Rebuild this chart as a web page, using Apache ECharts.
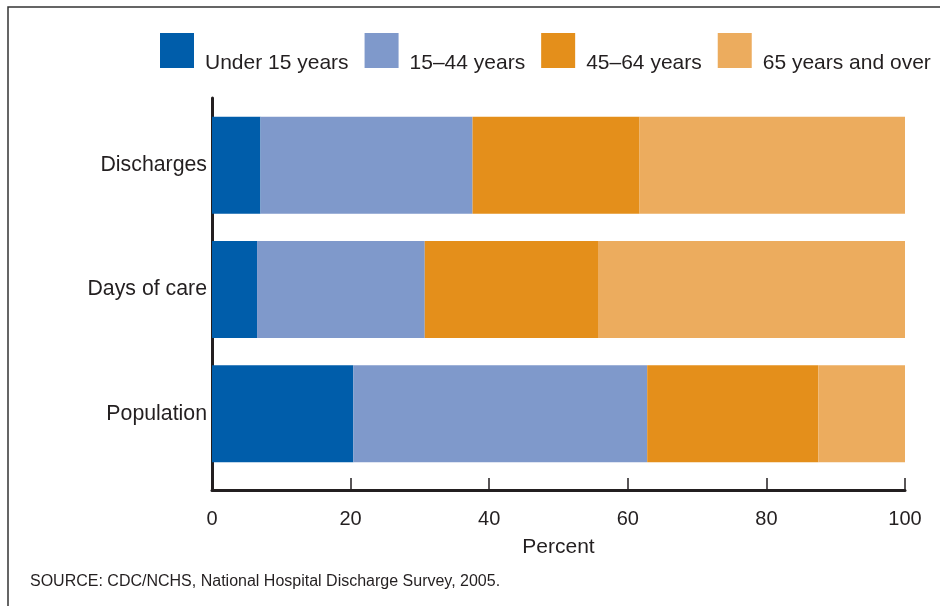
<!DOCTYPE html>
<html>
<head>
<meta charset="utf-8">
<script src="https://cdn.jsdelivr.net/npm/echarts@6/dist/echarts.min.js"></script>
<style>
html,body{margin:0;padding:0;background:#fff;}
#chart{width:940px;height:606px;}
</style>
</head>
<body>
<div id="chart"></div>
<script>
const categories = ['Discharges', 'Days of care', 'Population'];
const seriesNames = ['Under 15 years', '15\u201344 years', '45\u201364 years', '65 years and over'];
const under15 = [7.0, 6.5, 20.4];
const age15to44 = [30.6, 24.2, 42.4];
const age45to64 = [24.1, 25.0, 24.7];
const age65plus = [38.3, 44.3, 12.5];
const xTicks = [0, 20, 40, 60, 80, 100];
const colors = ['#005DAA', '#7F99CB', '#E48F1B', '#ECAC5E'];
const values = [under15, age15to44, age45to64, age65plus];

const FONT = '"Liberation Sans", Arial, Helvetica, sans-serif';
const TXT = '#231f20';

const chart = echarts.init(document.getElementById('chart'), null, {renderer: 'canvas'});
chart.setOption({
  animation: false,
  backgroundColor: '#fff',
  textStyle: {fontFamily: FONT, color: TXT},
  graphic: [
    {type: 'rect', shape: {x: 8, y: 7, width: 1000, height: 700}, style: {fill: 'none', stroke: '#333', lineWidth: 1.5}, silent: true},
    {type: 'text', left: 30, top: 574, style: {text: 'SOURCE: CDC/NCHS, National Hospital Discharge Survey, 2005.', font: '16px ' + FONT, fill: TXT}}
  ],
  legend: {
    left: 160, top: 33, padding: 0,
    itemWidth: 34, itemHeight: 35, itemGap: 16,
    icon: 'rect',
    formatter: n => '{t|' + n + '}',
    textStyle: {
      fontSize: 21, color: TXT, fontFamily: FONT,
      rich: {t: {fontSize: 21, color: TXT, fontFamily: FONT, padding: [26, 0, 0, 6]}}
    },
    data: seriesNames
  },
  grid: [
    {left: 212, right: 35, top: 103, bottom: 130},
    {left: 212, right: 35, top: 98, bottom: 116}
  ],
  xAxis: [
    {
      type: 'value', gridIndex: 0, min: 0, max: 100, interval: 20, offset: 14,
      axisLine: {show: true, lineStyle: {color: '#231f20', width: 3}},
      axisTick: {show: true, inside: true, length: 12, lineStyle: {color: '#231f20', width: 1.5}},
      axisLabel: {fontSize: 20, color: TXT, margin: 19, fontFamily: FONT,
        formatter: v => xTicks.includes(v) ? String(v) : ''},
      splitLine: {show: false},
      name: 'Percent', nameLocation: 'middle', nameGap: 47,
      nameTextStyle: {fontSize: 21, color: TXT, fontFamily: FONT}
    },
    {type: 'value', gridIndex: 1, min: 0, max: 100, show: false}
  ],
  yAxis: [
    {
      type: 'category', gridIndex: 0, data: categories, inverse: true,
      axisLine: {show: false}, axisTick: {show: false},
      axisLabel: {fontSize: 21.3, color: TXT, margin: 5, fontFamily: FONT}
    },
    {
      type: 'value', gridIndex: 1, min: 0, max: 1,
      axisLine: {show: true, onZero: false, lineStyle: {color: '#231f20', width: 3}},
      axisTick: {show: false}, axisLabel: {show: false}, splitLine: {show: false}
    }
  ],
  series: seriesNames.map((name, i) => ({
    name: name, type: 'bar', stack: 'total', xAxisIndex: 0, yAxisIndex: 0,
    barWidth: 97,
    itemStyle: {color: colors[i]},
    data: values[i]
  }))
});
</script>
</body>
</html>
